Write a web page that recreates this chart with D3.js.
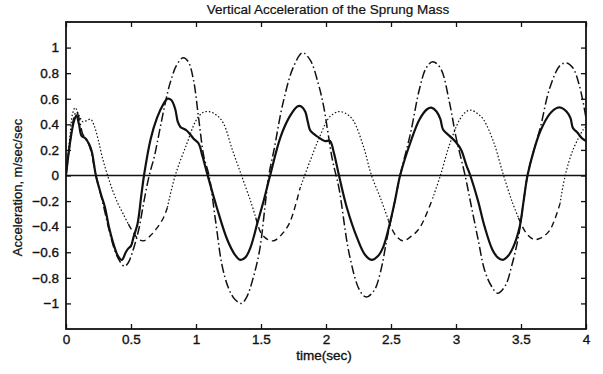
<!DOCTYPE html>
<html>
<head>
<meta charset="utf-8">
<script src="https://cdn.jsdelivr.net/npm/d3@7"></script>
<style>
  body { margin: 0; background: #fff; }
  svg text { font-family: "Liberation Sans", Arial, sans-serif; fill: #111; }
</style>
</head>
<body>
<script>
// tick labels
const xTicks = [0, 0.5, 1, 1.5, 2, 2.5, 3, 3.5, 4];
const yTicks = [-1, -0.8, -0.6, -0.4, -0.2, 0, 0.2, 0.4, 0.6, 0.8, 1];

// reference line at zero
const zeroLine = [[0, 0], [4, 0]];

// solid curve [time, accel]
const solidCurve = [
  [0,0],[0.03,0.25],[0.06,0.42],[0.08,0.47],[0.1,0.4],[0.12,0.31],[0.15,0.29],[0.18,0.24],[0.2,0.18],
  [0.23,0.0],[0.27,-0.15],[0.3,-0.25],[0.33,-0.4],[0.37,-0.55],[0.4,-0.63],[0.43,-0.66],[0.46,-0.6],
  [0.48,-0.57],[0.5,-0.55],[0.52,-0.48],[0.55,-0.38],[0.58,-0.15],[0.6,0.0],[0.65,0.28],[0.7,0.45],
  [0.75,0.56],[0.78,0.6],[0.81,0.59],[0.84,0.52],[0.86,0.42],[0.88,0.38],[0.93,0.35],[0.98,0.29],
  [1.02,0.25],[1.05,0.15],[1.09,0.0],[1.16,-0.25],[1.24,-0.5],[1.3,-0.62],[1.34,-0.66],[1.38,-0.64],
  [1.42,-0.56],[1.47,-0.38],[1.52,-0.2],[1.57,0.0],[1.65,0.3],[1.72,0.46],[1.78,0.54],[1.81,0.54],
  [1.84,0.5],[1.86,0.42],[1.88,0.35],[1.94,0.3],[1.99,0.27],[2.03,0.27],[2.06,0.18],[2.1,0.0],
  [2.16,-0.25],[2.24,-0.49],[2.3,-0.62],[2.35,-0.66],[2.4,-0.63],[2.44,-0.56],[2.49,-0.38],[2.53,-0.2],
  [2.57,0.0],[2.65,0.26],[2.72,0.44],[2.78,0.52],[2.81,0.53],[2.85,0.5],[2.88,0.44],[2.9,0.36],
  [2.95,0.31],[3.0,0.26],[3.04,0.2],[3.08,0.08],[3.11,0.0],[3.17,-0.2],[3.22,-0.4],[3.28,-0.58],
  [3.32,-0.64],[3.36,-0.66],[3.4,-0.63],[3.44,-0.56],[3.49,-0.4],[3.52,-0.2],[3.55,0.0],[3.6,0.2],
  [3.65,0.35],[3.72,0.48],[3.78,0.53],[3.81,0.53],[3.85,0.5],[3.88,0.45],[3.9,0.37],[3.93,0.34],
  [3.97,0.29],[4.0,0.27]
];

// dash-dot curve
const dashDotCurve = [
  [0,0],[0.03,0.25],[0.06,0.45],[0.08,0.5],[0.1,0.45],[0.13,0.32],[0.16,0.28],[0.19,0.2],[0.23,0.0],
  [0.28,-0.2],[0.33,-0.42],[0.38,-0.6],[0.42,-0.68],[0.45,-0.71],[0.48,-0.68],[0.52,-0.57],[0.56,-0.42],
  [0.6,-0.2],[0.64,0.0],[0.68,0.15],[0.72,0.35],[0.76,0.55],[0.8,0.72],[0.85,0.86],[0.9,0.92],
  [0.94,0.89],[0.98,0.75],[1.02,0.45],[1.06,0.15],[1.1,0.0],[1.15,-0.35],[1.2,-0.7],[1.25,-0.88],
  [1.3,-0.97],[1.35,-1.0],[1.39,-0.95],[1.44,-0.8],[1.49,-0.58],[1.53,-0.25],[1.56,0.0],[1.6,0.2],
  [1.67,0.57],[1.75,0.85],[1.82,0.96],[1.88,0.9],[1.94,0.72],[1.98,0.55],[2.05,0.12],[2.1,-0.1],
  [2.18,-0.62],[2.26,-0.9],[2.31,-0.95],[2.37,-0.9],[2.42,-0.75],[2.47,-0.49],[2.53,-0.2],[2.57,0.0],
  [2.65,0.33],[2.72,0.68],[2.77,0.84],[2.82,0.89],[2.88,0.84],[2.95,0.57],[3.0,0.3],[3.07,0.0],
  [3.12,-0.25],[3.17,-0.5],[3.22,-0.74],[3.27,-0.86],[3.32,-0.92],[3.38,-0.86],[3.43,-0.7],[3.48,-0.48],
  [3.52,-0.2],[3.55,0.0],[3.6,0.2],[3.65,0.38],[3.72,0.68],[3.8,0.86],[3.85,0.88],[3.9,0.84],
  [3.95,0.7],[4.0,0.45]
];

// dotted curve (drawn dashed around its troughs)
const dottedCurve = [
  [0,0],[0.03,0.3],[0.05,0.48],[0.07,0.53],[0.1,0.47],[0.13,0.42],[0.16,0.43],[0.19,0.44],[0.22,0.38],
  [0.25,0.27],[0.28,0.14],[0.32,0.0],[0.36,-0.12],[0.4,-0.22],[0.44,-0.3],[0.48,-0.38],[0.52,-0.45],
  [0.56,-0.5],[0.6,-0.51],[0.65,-0.47],[0.7,-0.41],[0.75,-0.33],[0.78,-0.25],[0.84,0.0],[0.93,0.25],
  [1.0,0.43],[1.05,0.49],[1.1,0.5],[1.16,0.47],[1.21,0.41],[1.28,0.2],[1.35,0.0],[1.42,-0.2],
  [1.46,-0.33],[1.5,-0.45],[1.55,-0.5],[1.6,-0.51],[1.66,-0.46],[1.72,-0.37],[1.8,-0.1],[1.88,0.12],
  [1.95,0.3],[2.03,0.46],[2.1,0.5],[2.16,0.48],[2.21,0.43],[2.29,0.22],[2.35,0.0],[2.42,-0.18],
  [2.48,-0.35],[2.53,-0.46],[2.59,-0.51],[2.65,-0.48],[2.72,-0.41],[2.82,-0.18],[2.88,0.0],[2.95,0.24],
  [3.03,0.44],[3.08,0.5],[3.12,0.51],[3.17,0.48],[3.21,0.44],[3.29,0.26],[3.36,0.02],[3.43,-0.2],
  [3.48,-0.33],[3.54,-0.45],[3.6,-0.5],[3.65,-0.49],[3.72,-0.43],[3.8,-0.22],[3.84,0.0],[3.9,0.2],
  [3.98,0.36],[4.0,0.38]
];
// time spans where that curve shows as dashes
const dashedSpans = [[0.48, 0.78], [1.46, 1.8], [2.48, 2.82], [3.48, 3.8]];

const W = 603, H = 374;
const mLeft = 66, mRight = 586, mTop = 22, mBottom = 329;

const svg = d3.select('body').append('svg')
  .attr('width', W)
  .attr('height', H);

const x = d3.scaleLinear().domain([0, 4]).range([mLeft, mRight]);
const y = d3.scaleLinear().domain([-1.2, 1.2]).range([mBottom, mTop]);

svg.append('defs').append('clipPath').attr('id', 'plotclip')
  .append('rect').attr('x', mLeft).attr('y', mTop)
  .attr('width', mRight - mLeft).attr('height', mBottom - mTop);

// axes, MATLAB style inward ticks on all four sides
svg.append('g').attr('transform', `translate(0,${mBottom})`)
  .call(d3.axisBottom(x).tickValues(xTicks).tickSize(-5).tickPadding(5).tickFormat(d3.format('')))
  .call(g => g.select('.domain').remove());
svg.append('g').attr('transform', `translate(0,${mTop})`)
  .call(d3.axisTop(x).tickValues(xTicks).tickSize(-5).tickFormat(''))
  .call(g => g.select('.domain').remove());
svg.append('g').attr('transform', `translate(${mLeft},0)`)
  .call(d3.axisLeft(y).tickValues(yTicks).tickSize(-5).tickPadding(7).tickFormat(d3.format('')))
  .call(g => g.select('.domain').remove());
svg.append('g').attr('transform', `translate(${mRight},0)`)
  .call(d3.axisRight(y).tickValues(yTicks).tickSize(-5).tickFormat(''))
  .call(g => g.select('.domain').remove());

svg.selectAll('.tick line').attr('stroke', '#111').attr('stroke-width', 1.3);
svg.selectAll('.tick text').attr('font-size', 13.5).attr('fill', '#111')
  .attr('stroke', '#111').attr('stroke-width', 0.35)
  .attr('font-family', '"Liberation Sans", Arial, sans-serif');

svg.append('rect')
  .attr('x', mLeft).attr('y', mTop)
  .attr('width', mRight - mLeft).attr('height', mBottom - mTop)
  .attr('fill', 'none').attr('stroke', '#111').attr('stroke-width', 1.8);

const plot = svg.append('g').attr('clip-path', 'url(#plotclip)');

const line = d3.line()
  .x(d => x(d[0]))
  .y(d => y(d[1]))
  .curve(d3.curveCatmullRom.alpha(0.5));

const inSpan = t => dashedSpans.some(s => t >= s[0] && t <= s[1]);
const inSpanOpen = t => dashedSpans.some(s => t > s[0] && t < s[1]);

plot.append('path').datum(zeroLine)
  .attr('d', line).attr('fill', 'none')
  .attr('stroke', '#111').attr('stroke-width', 1.7);

plot.append('path').datum(dottedCurve)
  .attr('d', line.defined(d => !inSpanOpen(d[0])))
  .attr('fill', 'none').attr('stroke', '#111')
  .attr('stroke-width', 1.2).attr('stroke-dasharray', '1.5,2');

plot.append('path').datum(dottedCurve)
  .attr('d', line.defined(d => inSpan(d[0])))
  .attr('fill', 'none').attr('stroke', '#111')
  .attr('stroke-width', 1.4).attr('stroke-dasharray', '6,4');

line.defined(() => true);

plot.append('path').datum(dashDotCurve)
  .attr('d', line).attr('fill', 'none')
  .attr('stroke', '#111').attr('stroke-width', 1.5)
  .attr('stroke-dasharray', '9,3,1.5,3');

plot.append('path').datum(solidCurve)
  .attr('d', line).attr('fill', 'none')
  .attr('stroke', '#111').attr('stroke-width', 2.2);

// titles
svg.append('text')
  .attr('x', (mLeft + mRight) / 2 + 2).attr('y', 14)
  .attr('text-anchor', 'middle').attr('font-size', 13.5)
  .attr('stroke', '#111').attr('stroke-width', 0.2)
  .text('Vertical Acceleration of the Sprung Mass');

svg.append('text')
  .attr('x', (mLeft + mRight) / 2 - 2).attr('y', 360)
  .attr('text-anchor', 'middle').attr('font-size', 13.5)
  .attr('stroke', '#111').attr('stroke-width', 0.35)
  .text('time(sec)');

svg.append('text')
  .attr('transform', `translate(22,${(mTop + mBottom) / 2 + 12}) rotate(-90)`)
  .attr('text-anchor', 'middle').attr('font-size', 13)
  .attr('stroke', '#111').attr('stroke-width', 0.25)
  .text('Acceleration, m/sec/sec');
</script>
</body>
</html>
